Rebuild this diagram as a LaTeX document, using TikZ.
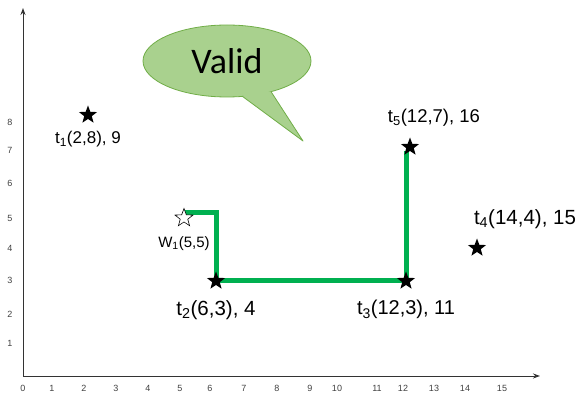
\documentclass[tikz,border=0pt]{standalone}
\usepackage{fontspec}
\setmainfont{Liberation Sans}
\newfontfamily\calibri{Carlito}
\usepackage{tikz}
\usetikzlibrary{positioning}
\usetikzlibrary{calc}
\usetikzlibrary{arrows.meta}
\usetikzlibrary{shapes.geometric}
\usetikzlibrary{backgrounds}
\definecolor{bubblefill}{HTML}{A9D18E}
\definecolor{bubbleline}{HTML}{70AD47}
\definecolor{routegreen}{HTML}{00B050}
\tikzset{
  task/.style={shape=star,star points=5,star point ratio=2.4,fill=black,minimum size=19pt,inner sep=0},
  worker/.style={task,fill=white,draw=black,line width=0.6pt},
  tlabel/.style={font=\fontsize{#1}{#1}\selectfont,inner sep=0},
  tlabel/.default=20,
  ticklabel/.style={font=\fontsize{9}{9}\selectfont,text=black!75,inner sep=0},
  route/.style={draw=routegreen,line width=5pt},
  axis/.style={draw=black!80,line width=0.9pt,{Stealth[length=7pt,width=5pt]}-{Stealth[length=7pt,width=5pt]}},
  bubble/.style={shape=ellipse,fill=bubblefill,draw=bubbleline,line width=0.8pt,
    minimum width=168pt,minimum height=72pt,inner sep=0,font=\calibri\fontsize{36}{36}\selectfont}
}

\begin{document}
\begin{tikzpicture}[x=1pt,y=-1pt]
  \useasboundingbox (0,0) rectangle (582,393);

  % axes and ticks
  \coordinate (o) at (23,376);
  \coordinate (xend) at (540,376);
  \coordinate (yend) at (23,8);
  \draw[axis] (yend) -- (o) -- (xend);
  \foreach \v/\px in {0/23,1/52,2/84,3/116,4/148,5/180,6/210,7/244,8/277,
                      9/310,10/337,11/377,12/403,13/434,14/465,15/502}
    \node[ticklabel] (xt\v) at (\px,388) {\v};
  \foreach \v/\py in {1/343,2/314,3/280,4/248,5/218,6/183,7/150,8/122}
    \node[ticklabel] (yt\v) at (10,\py) {\v};

  % tasks and worker
  \node[task,label={[tlabel=17,label distance=12pt]below:{t\textsubscript{1}(2,8), 9}}] (t1) at (88,115) {};
  \node[task,label={[tlabel=20.5,label distance=15pt]below:{t\textsubscript{2}(6,3), 4}}] (t2) at (216,281) {};
  \node[task,label={[tlabel,label distance=15pt]below:{t\textsubscript{3}(12,3), 11}}] (t3) at (406,281) {};
  \node[task,label={[tlabel=18.5,label distance=10pt,xshift=24pt]above:{t\textsubscript{5}(12,7), 16}}] (t5) at (410,147) {};
  \node[task,label={[tlabel=20.5,label distance=9pt,xshift=48pt]above:{t\textsubscript{4}(14,4), 15}}] (t4) at (477,248) {};
  \node[worker,label={[tlabel=15,label distance=14pt]below:{W\textsubscript{1}(5,5)}}] (w1) at (184,218) {};

  % assigned route
  \begin{scope}[on background layer]
    \draw[route] ([yshift=5pt]w1.center) -| (t2.center) -- (t3.center) -- (t3.center |- t5.south);
  \end{scope}

  % speech bubble with its tail
  \node[bubble] (bubble) at (227,61) {Valid};
  \coordinate (tip) at (303,141);
  \fill[bubblefill] (bubble.294) -- (tip) -- (bubble.325) -- ($(bubble.center)!0.75!(bubble.310)$) -- cycle;
  \draw[bubbleline,line width=0.8pt,line join=round] (bubble.294) -- (tip) -- (bubble.325);
\end{tikzpicture}
\end{document}
